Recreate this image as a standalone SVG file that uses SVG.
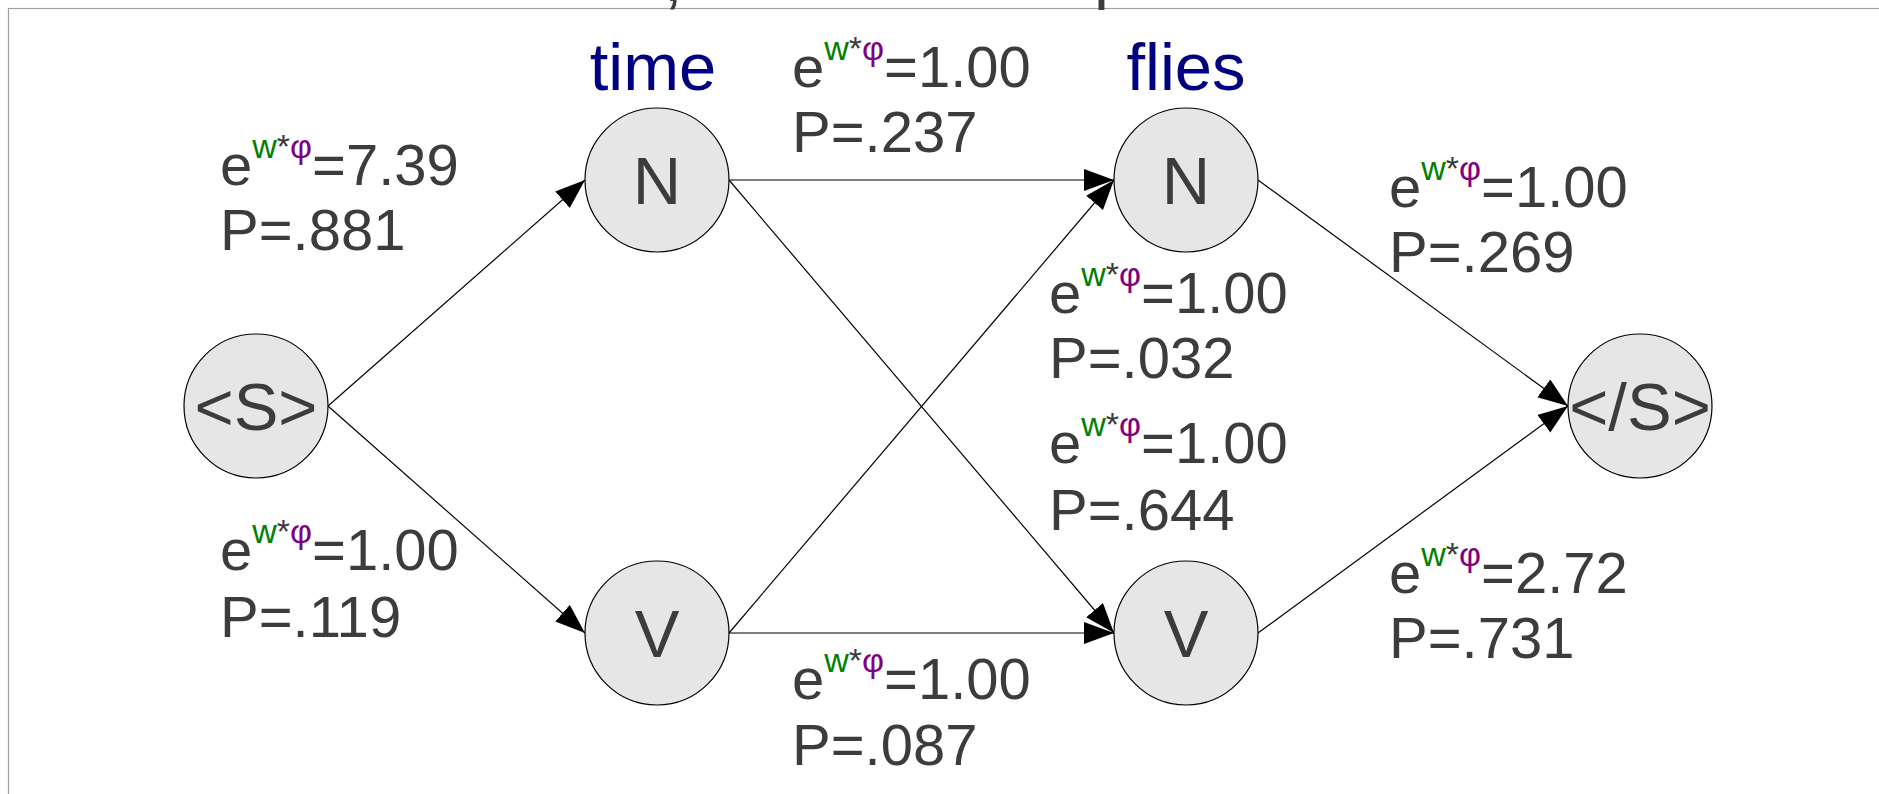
<svg xmlns="http://www.w3.org/2000/svg" width="1879" height="794" viewBox="0 0 1879 794">
<style>
.node{fill:#e6e6e6;stroke:#000;stroke-width:1.2}
.nt{font-family:"Liberation Sans",Arial,sans-serif;font-size:67px;fill:#3c3c3c;text-anchor:middle}
.word{font-family:"Liberation Sans",Arial,sans-serif;font-size:67px;fill:#000080;text-anchor:middle}
.lbl{font-family:"Liberation Sans",Arial,sans-serif;font-size:58px;fill:#3c3c3c}
.sup{font-size:34px}
.g{fill:#008000}
.p{fill:#800080}
.edge{stroke:#000;stroke-width:1.2;fill:none;marker-end:url(#arr)}
</style>
<defs>
<marker id="arr" markerUnits="userSpaceOnUse" markerWidth="32" markerHeight="24" refX="30" refY="11" orient="auto">
<path d="M0,0 L30,11 L0,22 z" fill="#000"/>
</marker>
</defs>
<rect x="8.5" y="8.5" width="1900" height="900" fill="none" stroke="#a0a0a0" stroke-width="1.2"/>
<text x="664" y="1" class="nt" style="text-anchor:start">,</text>
<text x="1094" y="-4" class="nt" style="text-anchor:start">p</text>

<g id="connectors">
<line class="edge" x1="328" y1="406" x2="585" y2="180"/>
<line class="edge" x1="328" y1="406" x2="585" y2="633"/>
<line class="edge" x1="729" y1="180" x2="1114" y2="180"/>
<line class="edge" x1="729" y1="180" x2="1114" y2="633"/>
<line class="edge" x1="729" y1="633" x2="1114" y2="180"/>
<line class="edge" x1="729" y1="633" x2="1114" y2="633"/>
<line class="edge" x1="1258" y1="180" x2="1568" y2="406"/>
<line class="edge" x1="1258" y1="633" x2="1568" y2="406"/>
</g>

<g id="node-start"><circle class="node" cx="256" cy="406" r="72"/><text class="nt" x="256" y="430">&lt;S&gt;</text></g>
<g id="node-time-N"><circle class="node" cx="657" cy="180" r="72"/><text class="nt" x="657" y="204">N</text></g>
<g id="node-time-V"><circle class="node" cx="657" cy="633" r="72"/><text class="nt" x="657" y="657">V</text></g>
<g id="node-flies-N"><circle class="node" cx="1186" cy="180" r="72"/><text class="nt" x="1186" y="204">N</text></g>
<g id="node-flies-V"><circle class="node" cx="1186" cy="633" r="72"/><text class="nt" x="1186" y="657">V</text></g>
<g id="node-end"><circle class="node" cx="1640" cy="406" r="72"/><text class="nt" x="1640" y="430">&lt;/S&gt;</text></g>

<g id="word-time"><text class="word" x="653" y="90">time</text></g>
<g id="word-flies"><text class="word" x="1186" y="90">flies</text></g>

<g id="labels">
<text class="lbl" x="220" y="185">e<tspan class="sup g" dy="-27">w</tspan><tspan class="sup">*</tspan><tspan class="sup p">φ</tspan><tspan dy="27">=7.39</tspan></text>
<text class="lbl" x="220" y="250">P=.881</text>
<text class="lbl" x="220" y="570">e<tspan class="sup g" dy="-27">w</tspan><tspan class="sup">*</tspan><tspan class="sup p">φ</tspan><tspan dy="27">=1.00</tspan></text>
<text class="lbl" x="220" y="637">P=.119</text>
<text class="lbl" x="792" y="87">e<tspan class="sup g" dy="-27">w</tspan><tspan class="sup">*</tspan><tspan class="sup p">φ</tspan><tspan dy="27">=1.00</tspan></text>
<text class="lbl" x="792" y="152">P=.237</text>
<text class="lbl" x="1049" y="313">e<tspan class="sup g" dy="-27">w</tspan><tspan class="sup">*</tspan><tspan class="sup p">φ</tspan><tspan dy="27">=1.00</tspan></text>
<text class="lbl" x="1049" y="378">P=.032</text>
<text class="lbl" x="1049" y="463">e<tspan class="sup g" dy="-27">w</tspan><tspan class="sup">*</tspan><tspan class="sup p">φ</tspan><tspan dy="27">=1.00</tspan></text>
<text class="lbl" x="1049" y="530">P=.644</text>
<text class="lbl" x="1389" y="207">e<tspan class="sup g" dy="-27">w</tspan><tspan class="sup">*</tspan><tspan class="sup p">φ</tspan><tspan dy="27">=1.00</tspan></text>
<text class="lbl" x="1389" y="272">P=.269</text>
<text class="lbl" x="1389" y="593">e<tspan class="sup g" dy="-27">w</tspan><tspan class="sup">*</tspan><tspan class="sup p">φ</tspan><tspan dy="27">=2.72</tspan></text>
<text class="lbl" x="1389" y="658">P=.731</text>
<text class="lbl" x="792" y="699">e<tspan class="sup g" dy="-27">w</tspan><tspan class="sup">*</tspan><tspan class="sup p">φ</tspan><tspan dy="27">=1.00</tspan></text>
<text class="lbl" x="792" y="765">P=.087</text>
</g>
</svg>
